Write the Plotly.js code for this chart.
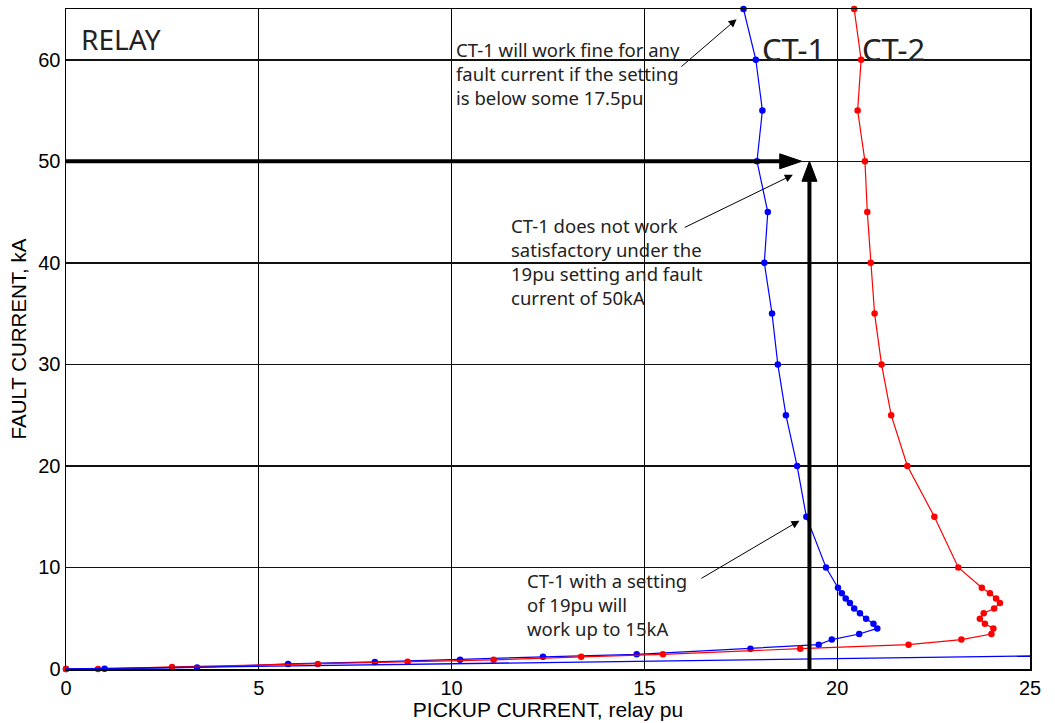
<!DOCTYPE html>
<html>
<head>
<meta charset="utf-8">
<script src="https://cdn.plot.ly/plotly-3.0.1.min.js"></script>
<style>
  html, body { margin: 0; padding: 0; background: #fff; }
  #chart { width: 1055px; height: 723px; }
</style>
</head>
<body>
<div id="chart"></div>
<script>
// CT-1 saturation boundary: relay pickup (pu) vs. fault current (kA)
const ct1Pickup = [0, 1.0, 3.4, 5.76, 8.01, 10.22, 12.37, 14.8, 17.75, 19.52, 19.86, 20.57, 21.04,
                   20.94, 20.75, 20.59, 20.44, 20.33, 20.22, 20.12, 20.02, 19.71, 19.2, 18.96, 18.67,
                   18.46, 18.31, 18.11, 18.2, 17.92, 18.06, 17.89, 17.57];
const ct1Fault  = [0, 0.02, 0.15, 0.5, 0.7, 0.92, 1.2, 1.45, 2.0, 2.4, 2.9, 3.45, 4.0,
                   4.45, 4.95, 5.5, 5.95, 6.5, 6.95, 7.45, 8.0, 10, 15, 20, 25,
                   30, 35, 40, 45, 50, 55, 60, 65];

// CT-2 saturation boundary
const ct2Pickup = [0, 0.83, 2.75, 6.53, 8.86, 11.09, 13.36, 15.48, 19.04, 21.85, 23.22, 24.0, 24.05,
                   23.83, 23.7, 23.8, 24.07, 24.22, 24.12, 23.96, 23.75, 23.14, 22.52, 21.82, 21.4,
                   21.15, 20.97, 20.87, 20.78, 20.72, 20.53, 20.62, 20.44];
const ct2Fault  = [0, 0.0, 0.2, 0.5, 0.72, 0.9, 1.2, 1.45, 2.0, 2.4, 2.9, 3.45, 4.0,
                   4.45, 4.95, 5.5, 5.95, 6.5, 6.95, 7.45, 8.0, 10, 15, 20, 25,
                   30, 35, 40, 45, 50, 55, 60, 65];

// Straight relay reference line
const relayLinePickup = [0, 25];
const relayLineFault  = [0, 1.28];

// Axis ticks
const xTicks = [0, 5, 10, 15, 20, 25];
const yTicks = [0, 10, 20, 30, 40, 50, 60];

// Operating point: 19 pu setting at 50 kA
const settingPu = 19.28;
const faultLevelKA = 50;
const hArrowTip = 19.08;

// Callout texts
const noteFine = ["CT-1 will work fine for any", "fault current if the setting", "is below some 17.5pu"];
const noteFail = ["CT-1 does not work", "satisfactory under the", "19pu setting and fault", "current of 50kA"];
const noteUpTo = ["CT-1 with a setting", "of 19pu will", "work up to 15kA"];

const noteFont = { family: "Noto Sans, sans-serif", size: 18.5, color: "#222" };

// A left-aligned multi-line callout, vertically centred on y
function textBlock(lines, x, y) {
  return {
    text: lines.join("<br>"), x: x, y: y, xref: "x", yref: "y",
    xanchor: "left", yanchor: "middle", align: "left", xshift: -3,
    showarrow: false, font: noteFont
  };
}

function pointer(tail, tip) {
  return {
    text: "", x: tip[0], y: tip[1], ax: tail[0], ay: tail[1],
    xref: "x", yref: "y", axref: "x", ayref: "y",
    showarrow: true, arrowhead: 2, arrowsize: 1.6, arrowwidth: 1, arrowcolor: "#000"
  };
}

function label(text, x, y, size) {
  return { text: text, x: x, y: y, xref: "x", yref: "y", xanchor: "left", yanchor: "middle",
           xshift: -3, showarrow: false,
           font: { family: "Noto Sans, sans-serif", size: size, color: "#222" } };
}

const traces = [
  {
    x: ct1Pickup, y: ct1Fault, type: "scatter", mode: "lines+markers", name: "CT-1",
    line: { color: "#0000ff", width: 1.2 }, marker: { color: "#0000ff", size: 6.5 },
    cliponaxis: false
  },
  {
    x: ct2Pickup, y: ct2Fault, type: "scatter", mode: "lines+markers", name: "CT-2",
    line: { color: "#ff0000", width: 1.2 }, marker: { color: "#ff0000", size: 6.5 },
    cliponaxis: false
  },
  {
    x: relayLinePickup, y: relayLineFault, type: "scatter", mode: "lines", name: "Relay",
    line: { color: "#0000ff", width: 1.3 }
  }
];

const annotations = [
  label("RELAY", 0.41, 62.07, 28),
  label("CT-1", 18.07, 61.1, 31),
  label("CT-2", 20.68, 61.1, 31),
  textBlock(noteFine, 10.13, 58.66),
  textBlock(noteFail, 11.56, 40.16),
  textBlock(noteUpTo, 11.99, 6.32),
  pointer([15.92, 59.2], [17.39, 64.0]),
  pointer([16.01, 43.42], [18.85, 48.67]),
  pointer([16.44, 8.84], [19.02, 14.61])
];

const shapes = [
  // horizontal thick arrow at 50 kA
  { type: "line", xref: "x", yref: "y", x0: 0, y0: faultLevelKA, x1: hArrowTip - 0.3, y1: faultLevelKA,
    line: { color: "#000", width: 4 } },
  { type: "path", xref: "x", yref: "y", xsizemode: "pixel", ysizemode: "pixel",
    xanchor: hArrowTip, yanchor: faultLevelKA, path: "M0,0 L-22,7.5 L-22,-7.5 Z",
    fillcolor: "#000", line: { color: "#000", width: 1 } },
  // vertical thick arrow at the 19 pu setting
  { type: "line", xref: "x", yref: "y", x0: settingPu, y0: 0, x1: settingPu, y1: faultLevelKA - 1.2,
    line: { color: "#000", width: 4 } },
  { type: "path", xref: "x", yref: "y", xsizemode: "pixel", ysizemode: "pixel",
    xanchor: settingPu, yanchor: faultLevelKA, path: "M0,0 L-7.5,-20 L7.5,-20 Z",
    fillcolor: "#000", line: { color: "#000", width: 1 } }
];

const axisFont = { family: "Liberation Sans, Arial, sans-serif", size: 20, color: "#000" };

const layout = {
  width: 1055, height: 723,
  margin: { l: 66, r: 25, t: 9, b: 54 },
  paper_bgcolor: "#fff", plot_bgcolor: "#fff",
  showlegend: false,
  xaxis: {
    range: [0, 25], tickvals: xTicks, ticktext: xTicks.map(String),
    showgrid: true, gridcolor: "#000", gridwidth: 1,
    zeroline: false, showline: true, mirror: true, linecolor: "#000", linewidth: 1.5,
    ticks: "", tickfont: axisFont,
    title: { text: "PICKUP CURRENT, relay pu", font: { family: "Liberation Sans, Arial, sans-serif", size: 21, color: "#000" }, standoff: 4 }
  },
  yaxis: {
    range: [0, 65], tickvals: yTicks, ticktext: yTicks.map(String),
    showgrid: true, gridcolor: "#111", gridwidth: 1.6,
    zeroline: false, showline: true, mirror: true, linecolor: "#000", linewidth: 1.5,
    ticks: "", tickfont: axisFont,
    title: { text: "FAULT CURRENT, kA", font: { family: "Liberation Sans, Arial, sans-serif", size: 20.5, color: "#000" }, standoff: 6 }
  },
  annotations: annotations,
  shapes: shapes
};

Plotly.newPlot("chart", traces, layout, { displayModeBar: false, staticPlot: true });
</script>
</body>
</html>
